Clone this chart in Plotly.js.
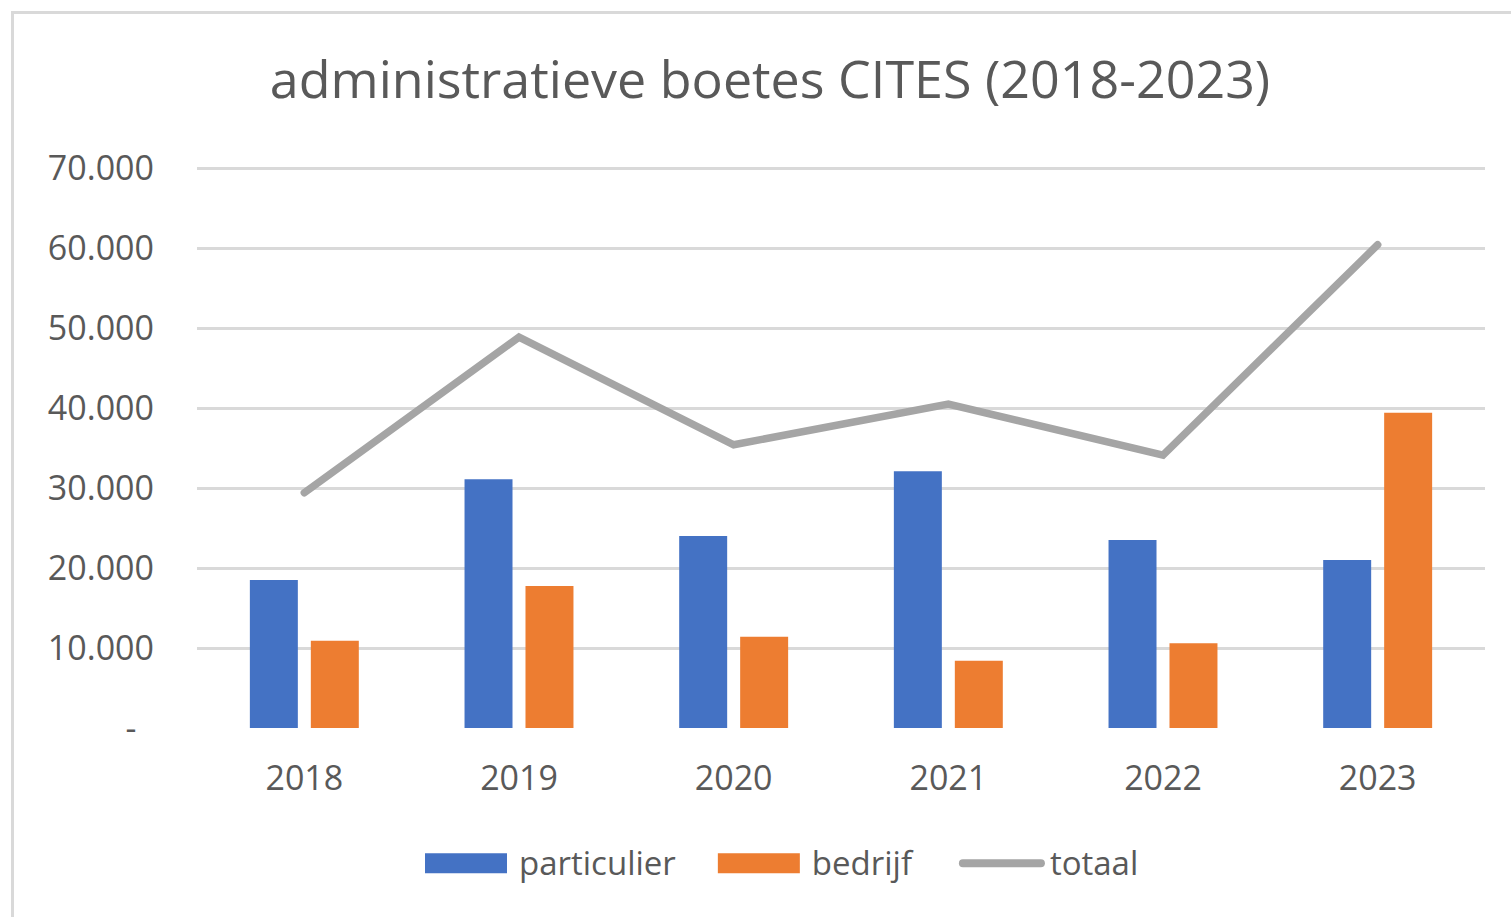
<!DOCTYPE html>
<html>
<head>
<meta charset="utf-8">
<script src="https://cdn.plot.ly/plotly-3.0.1.min.js"></script>
<style>
  html, body { margin: 0; padding: 0; background: #ffffff; overflow: hidden; }
  #chart { width: 1511px; height: 917px; }
  #frame { position: absolute; left: 11px; top: 11px; width: 1700px; height: 1200px;
           border: 3px solid #d9d9d9; pointer-events: none; }
  .scatterlayer .js-line { stroke-linecap: round; }
</style>
</head>
<body>
<div id="chart"></div>
<div id="frame"></div>
<script>
const years = ['2018', '2019', '2020', '2021', '2022', '2023'];
const particulier = [18500, 31100, 24000, 32100, 23500, 21000];
const bedrijf = [10900, 17750, 11400, 8400, 10600, 39400];
const totaal = [29400, 48850, 35400, 40500, 34100, 60400];
const yTickVals = [0, 10000, 20000, 30000, 40000, 50000, 60000, 70000];
const yTickText = ['-\u00a0\u00a0', '10.000', '20.000', '30.000', '40.000', '50.000', '60.000', '70.000'];

const textColor = '#595959';
const fontFamily = '"Open Sans", "Noto Sans", sans-serif';

const traces = [
  { type: 'bar', name: 'particulier', x: years, y: particulier,
    marker: { color: '#4472C4' }, hoverinfo: 'x+y+name' },
  { type: 'bar', name: 'bedrijf', x: years, y: bedrijf,
    marker: { color: '#ED7D31' }, hoverinfo: 'x+y+name' },
  { type: 'scatter', mode: 'lines', name: 'totaal', x: years, y: totaal,
    line: { color: '#A5A5A5', width: 7.5, shape: 'linear' }, hoverinfo: 'x+y+name' }
];

const layout = {
  width: 1511, height: 917,
  paper_bgcolor: '#ffffff', plot_bgcolor: '#ffffff',
  margin: { l: 197, r: 26, t: 166, b: 189 },
  font: { family: fontFamily, color: textColor, size: 33 },
  title: { text: 'administratieve boetes CITES (2018-2023)', font: { size: 52, color: textColor, family: fontFamily },
           x: 770 / 1511, xref: 'container', xanchor: 'center', y: 1 - 80 / 917, yref: 'container', yanchor: 'middle' },
  barmode: 'group', bargap: 0.432, bargroupgap: 0.213,
  xaxis: { type: 'category', showgrid: false, zeroline: false, showline: false, ticks: '',
           tickfont: { size: 34, color: textColor }, ticklabelstandoff: 27, range: [-0.5, 5.5] },
  yaxis: { range: [0, 70250], tickvals: yTickVals, ticktext: yTickText, showgrid: true,
           gridcolor: '#d9d9d9', gridwidth: 2.5, zeroline: false, showline: false, ticks: '',
           tickfont: { size: 34, color: textColor }, ticklabelstandoff: 42 },
  showlegend: true,
  legend: { orientation: 'h', x: 388 / 1511, xref: 'container', xanchor: 'left',
            y: 1 - 862 / 917, yref: 'container', yanchor: 'middle',
            font: { size: 33, color: textColor }, itemwidth: 121, traceorder: 'normal' },
  hovermode: 'closest'
};

const gd = document.getElementById('chart');
Plotly.newPlot(gd, traces, layout, { displayModeBar: false }).then(function () {
  // Restyle legend swatches to the wide Excel-style keys
  const items = gd.querySelectorAll('.legend g.traces');
  items.forEach(function (g, i) {
    const tr = gd.data[i];
    const t = g.querySelector('text.legendtext');
    if (!t) return;
    const bb = t.getBBox();
    const cy = bb.y + bb.height / 2 + 1;
    g.querySelectorAll('.legendpoints path, .legendlines path, .legendfill path').forEach(function (p) {
      p.style.display = 'none';
    });
    const p = document.createElementNS('http://www.w3.org/2000/svg', 'path');
    if (tr.type === 'bar') {
      const x1 = bb.x - 12, x0 = x1 - 82;
      p.setAttribute('d', 'M' + x0 + ',' + (cy - 10) + 'H' + x1 + 'V' + (cy + 10) + 'H' + x0 + 'Z');
      p.setAttribute('fill', tr.marker.color);
    } else {
      const x1 = bb.x - 5 - 4, x0 = bb.x - 91 + 4;
      p.setAttribute('d', 'M' + x0 + ',' + cy + 'H' + x1);
      p.setAttribute('stroke', tr.line.color);
      p.setAttribute('stroke-width', 8);
      p.setAttribute('stroke-linecap', 'round');
      p.setAttribute('fill', 'none');
    }
    g.insertBefore(p, g.firstChild);
  });
});
</script>
</body>
</html>
